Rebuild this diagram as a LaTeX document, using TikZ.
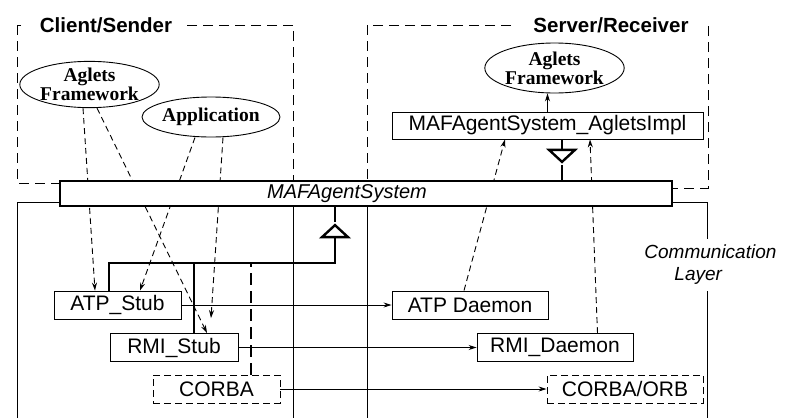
\documentclass[tikz,border=0pt]{standalone}
\usepackage{fontspec}
\setmainfont{Liberation Serif}
\setsansfont{Liberation Sans}
\usetikzlibrary{shapes.geometric, arrows.meta}
\tikzset{
>={Stealth[length=8pt, width=5pt]}, % small filled arrow heads
every path/.style={line width=0.9pt},
region/.style={draw, dash pattern=on 10pt off 6pt}, % client and server areas
title/.style={fill=white, inner xsep=16pt, inner ysep=2pt, font=\sffamily\bfseries\fontsize{20.5}{22}\selectfont},
frame/.style={draw, ellipse, inner sep=0pt, align=center, font=\bfseries\fontsize{19.5}{19}\selectfont},
box/.style={draw, rectangle, inner sep=0pt, minimum height=28pt, font=\sffamily\fontsize{21}{23}\selectfont},
dashedbox/.style={dash pattern=on 7pt off 4pt},
italic/.style={font=\sffamily\itshape\fontsize{20}{22}\selectfont},
bar/.style={draw, fill=white, line width=2.4pt, minimum width=612pt, minimum height=25pt, inner sep=0pt},
uses/.style={dash pattern=on 6pt off 4pt}, % dashed dependency arrows
inh/.style={line width=2.4pt},
tri/.style={draw, fill=white, line width=2.4pt, isosceles triangle, isosceles triangle stretches, inner sep=0pt, minimum width=26pt, minimum height=12pt},
}

\begin{document}
\begin{tikzpicture}[x=1pt, y=-1pt]
  \useasboundingbox (0,0) rectangle (785,418);

  % Regions
  \draw[region] (17,25) rectangle (293,183);
  \draw[region] (367,25) rectangle (708,188);
  \node[title, inner xsep=14pt] (client) at (106,25) {Client/Sender};
  \node[title] (server) at (611,25) {Server/Receiver};

  % Communication layer
  \draw (17,418) -- (17,202) -- (707,202) -- (707,418);
  \draw (293,207) -- (293,418);
  \draw (367,207) -- (367,418);
  \node[italic, font=\sffamily\itshape\fontsize{19}{22}\selectfont, fill=white, align=left, anchor=west, inner ysep=6pt, inner xsep=2pt] (comm) at (642,265) {Communication\\\hspace{30pt}Layer};

  % Frameworks
  \node[frame, minimum width=127pt, minimum height=45pt] (afC) at (89.5,84.5) {Aglets\\Framework};
  \node[frame, minimum width=138pt, minimum height=40pt] (app) at (211,117) {Application};
  \node[frame, minimum width=127pt, minimum height=50pt] (afS) at (554.5,68) {Aglets\\Framework};

  % Classes
  \node[box, minimum width=311pt, minimum height=27pt] (impl) at (547.5,125.5) {MAFAgentSystem\_AgletsImpl};
  \node[box, minimum width=127pt] (atpS) at (117.5,305) {ATP\_Stub};
  \node[box, minimum width=128pt] (rmiS) at (174,347.5) {RMI\_Stub};
  \node[box, dashedbox, minimum width=127pt] (corba) at (216.5,389) {CORBA};
  \node[box, minimum width=156pt] (atpD) at (470,305) {ATP Daemon};
  \node[box, minimum width=156pt] (rmiD) at (555,347.5) {RMI\_Daemon};
  \node[box, dashedbox, minimum width=156pt] (orb) at (625,389) {CORBA/ORB};

  % Dependencies
  \draw[->, uses] ([xshift=-6.5pt]afC.south) -- ([xshift=-22.5pt]atpS.north);
  \draw[->, uses] ([xshift=7.5pt]afC.south) -- ([xshift=33pt]rmiS.north);
  \draw[->, uses] ([xshift=-16pt]app.south) -- ([xshift=22.5pt]atpS.north);
  \draw[->, uses, shorten >=15pt] ([xshift=12pt]app.south) -- ([xshift=36pt]rmiS.north);
  \draw[->, uses] ([xshift=-6pt]atpD.north) -- ([xshift=-42.5pt]impl.south);
  \draw[->, uses] ([xshift=42.5pt]rmiD.north) -- ([xshift=42.5pt]impl.south);
  \draw[->] (impl.north) -- (afS.south -| impl.north);

  % Common interface
  \node[bar, label={[italic, xshift=-19pt]center:MAFAgentSystem}] (bar) at (366,193.5) {};

  % Inheritance
  \node[tri, shape border rotate=90, anchor=apex] (triC) at (335,222) {};
  \node[tri, shape border rotate=270, anchor=apex] (triS) at (562,165) {};
  \coordinate (junc) at (335,263);
  \draw[inh] (triC.apex) -- (triC.apex |- bar.south);
  \draw[inh] (triC.lower side) -- (junc) -| ([xshift=-8.5pt]atpS.north);
  \draw[inh] ([xshift=20pt]rmiS.north) -- ([xshift=20pt]rmiS.north |- junc);
  \draw[inh, dash pattern=on 12pt off 6pt] ([xshift=34.5pt]corba.north) -- ([xshift=34.5pt]corba.north |- junc);
  \draw[inh] (triS.apex) -- (triS.apex |- bar.north);
  \draw[inh] (triS.lower side) -- (triS.lower side |- impl.south);

  % Transport
  \draw[->] (atpS) -- (atpD);
  \draw[->] (rmiS) -- (rmiD);
  \draw[->] (corba) -- (orb);
\end{tikzpicture}
\end{document}
